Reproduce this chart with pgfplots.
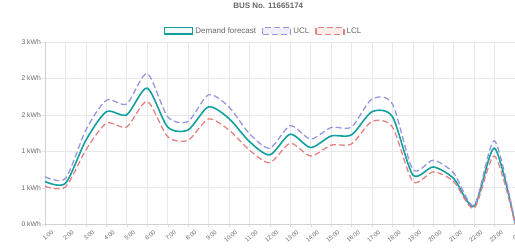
\documentclass[border=0pt]{standalone}
\usepackage{fontspec}
\setmainfont{Liberation Sans}
\usepackage{pgfplots}
\pgfplotsset{compat=1.18}
\definecolor{tealc}{RGB}{20,160,160}
\definecolor{uclc}{RGB}{150,150,225}
\definecolor{lclc}{RGB}{228,130,130}
\definecolor{txt}{RGB}{102,102,102}
\begin{document}
\begin{tikzpicture}
\useasboundingbox (-45bp,-25bp) rectangle (470bp,224bp);
\begin{axis}[
  scale only axis, width=470bp, height=182bp,
  xmin=0, xmax=23, ymin=0, ymax=3,
  xtick={0,...,23},
  xticklabels={1:00,2:00,3:00,4:00,5:00,6:00,7:00,8:00,9:00,10:00,11:00,12:00,13:00,14:00,15:00,16:00,17:00,18:00,19:00,20:00,21:00,22:00,23:00,0:00},
  ytick={0,0.6,1.2,1.8,2.4,3},
  yticklabels={0 kWh,1 kWh,1 kWh,2 kWh,2 kWh,3 kWh},
  xticklabel style={rotate=40, anchor=north east, font=\fontsize{6}{6}\selectfont, text=txt, inner sep=0pt, xshift=3bp, yshift=-6bp},
  yticklabel style={font=\fontsize{6.8}{7}\selectfont, text=txt, inner sep=1pt},
  grid=major, grid style={gray!18, line width=0.5pt},
  axis line style={gray!35},
  axis x line*=bottom, axis y line*=left,
  tick style={gray!25}, major tick length=3bp,
  tick align=outside,
  clip=false,
  title={\textbf{BUS No. 11665174}},
  title style={at={(0.475,1)}, anchor=south, yshift=24bp, font=\fontsize{8}{8}\selectfont, text=txt},
  legend columns=-1,
  legend style={at={(0.465,1)}, anchor=south, yshift=5bp, draw=none, fill=none, font=\fontsize{8}{8}\selectfont, text=txt, inner sep=0pt, /tikz/every even column/.append style={column sep=4bp}},
  legend image code/.code={\draw[#1, fill opacity=0.15] (0bp,-3bp) rectangle (28bp,3.5bp);},
]
\addplot[tealc, line width=1.6pt, smooth, tension=0.45, fill=tealc!40, fill opacity=0] coordinates {
(0,0.70)(1,0.67)(2,1.38)(3,1.85)(4,1.80)(5,2.24)(6,1.60)(7,1.55)(8,1.93)(9,1.74)(10,1.36)(11,1.14)(12,1.48)(13,1.26)(14,1.45)(15,1.47)(16,1.85)(17,1.77)(18,0.81)(19,0.94)(20,0.75)(21,0.29)(22,1.25)(23,0.02)};
\addlegendentry{Demand forecast}
\addplot[uclc, line width=1.3pt, dashed, dash pattern=on 6bp off 3bp, smooth, tension=0.45, fill=uclc, fill opacity=0] coordinates {
(0,0.78)(1,0.75)(2,1.55)(3,2.04)(4,1.98)(5,2.48)(6,1.77)(7,1.69)(8,2.13)(9,1.93)(10,1.49)(11,1.25)(12,1.62)(13,1.40)(14,1.59)(15,1.60)(16,2.06)(17,1.98)(18,0.90)(19,1.05)(20,0.84)(21,0.31)(22,1.37)(23,0.02)};
\addlegendentry{UCL}
\addplot[lclc, line width=1.3pt, dashed, dash pattern=on 6bp off 3bp, smooth, tension=0.45, fill=lclc, fill opacity=0] coordinates {
(0,0.62)(1,0.61)(2,1.22)(3,1.66)(4,1.60)(5,2.02)(6,1.44)(7,1.38)(8,1.73)(9,1.55)(10,1.22)(11,1.01)(12,1.33)(13,1.12)(14,1.30)(15,1.32)(16,1.69)(17,1.60)(18,0.70)(19,0.86)(20,0.70)(21,0.26)(22,1.12)(23,0.00)};
\addlegendentry{LCL}
\end{axis}
\end{tikzpicture}
\end{document}
